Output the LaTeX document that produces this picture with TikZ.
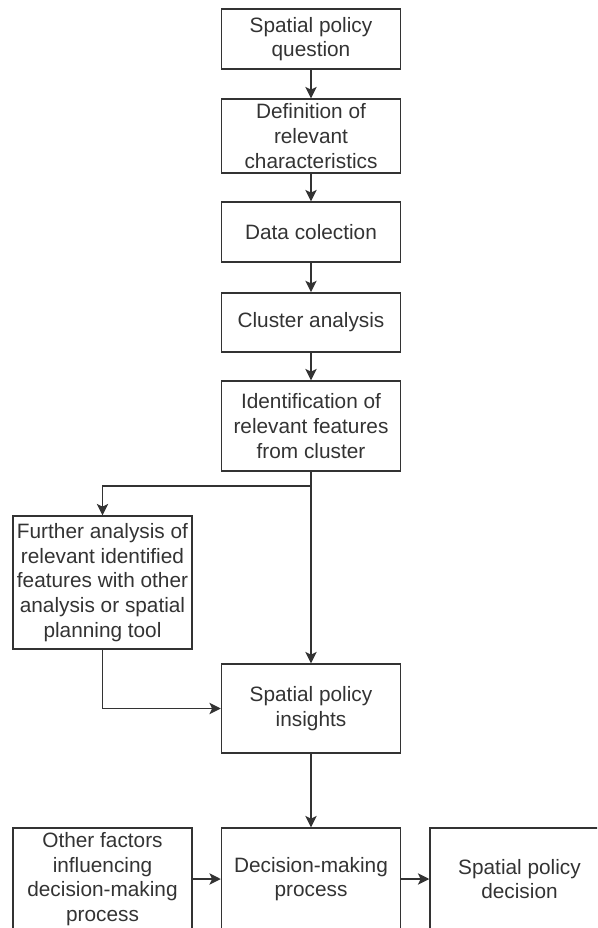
\documentclass[tikz,border=0pt]{standalone}
\usepackage{fontspec}
\setmainfont{Liberation Sans}
\usetikzlibrary{arrows.meta}
\definecolor{ink}{HTML}{333333}

\begin{document}
\begin{tikzpicture}[x=0.75pt, y=-0.75pt,
  every node/.style={font=\fontsize{15.6}{18.5}\selectfont, text=ink},
  box/.style={draw=ink, line width=1.1pt, align=center, minimum width=134.25pt, inner sep=0pt},
  flow/.style={-{Stealth[length=8.5pt, width=8.5pt, inset=2pt]}, draw=ink, line width=1.1pt}]
  \useasboundingbox (0,0) rectangle (597,928);
  \clip (0,0) rectangle (597,928);

  % main column
  \node[box, minimum height=45pt] (question) at (311,39) {Spatial policy\\question};
  \node[box, minimum height=55.5pt] (charact) at (311,136) {Definition of\\relevant\\characteristics};
  \node[box, minimum height=45pt] (data) at (311,232) {Data colection};
  \node[box, minimum height=44.5pt] (cluster) at (311,322.5) {Cluster analysis};
  \node[box, minimum height=67.5pt] (ident) at (311,426) {Identification of\\relevant features\\from cluster};

  \node[box, minimum height=99.75pt] (further) at (102.5,582.5)
  {Further analysis of\\relevant identified\\features with other\\analysis or spatial\\planning tool};

  \node[box, minimum height=66.75pt] (insights) at (311,708.5) {Spatial policy\\insights};

  % bottom row
  \node[box, minimum height=76.5pt] (other) at (102.5,879)
  {Other factors\\influencing\\decision-making\\process};
  \node[box, minimum height=76.5pt] (decision) at (311,879) {Decision-making\\process};
  \node[box, minimum height=76.5pt] (outcome) at (519.5,879) {Spatial policy\\decision};

  \coordinate (split) at (311,486);

  \draw[flow] (question) -- (charact);
  \draw[flow] (charact) -- (data);
  \draw[flow] (data) -- (cluster);
  \draw[flow] (cluster) -- (ident);
  \draw[flow] (ident) -- (insights);
  \draw[flow] (split) -| (further);
  \draw[flow] (further.south) |- (insights.west);
  \draw[flow] (insights) -- (decision);
  \draw[flow] (other) -- (decision);
  \draw[flow] (decision) -- (outcome);
\end{tikzpicture}
\end{document}
